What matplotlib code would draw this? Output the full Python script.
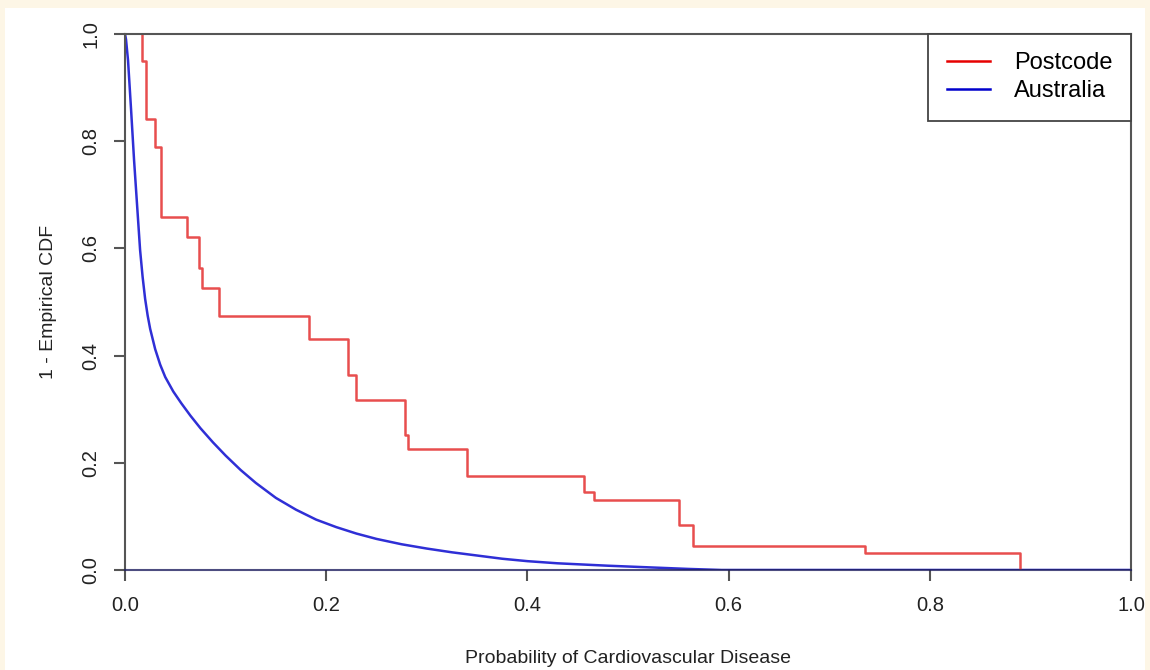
import matplotlib
matplotlib.use("Agg")
import matplotlib.pyplot as plt
from matplotlib.patches import Rectangle
import numpy as np

plt.rcParams['font.family'] = ['Liberation Sans', 'DejaVu Sans']

# Postcode: step positions and level after each step
red_x = [0.0166, 0.0205, 0.0295, 0.0358, 0.062, 0.0739, 0.0762, 0.0930, 0.183,
         0.222, 0.230, 0.278, 0.281, 0.340, 0.456, 0.466, 0.551, 0.565, 0.736, 0.890]
red_y = [0.950, 0.841, 0.790, 0.659, 0.622, 0.563, 0.527, 0.474, 0.431,
         0.364, 0.317, 0.252, 0.226, 0.175, 0.145, 0.131, 0.084, 0.044, 0.031, 0.0]

# Australia: 1 - ECDF
blue_x = [0.0, 0.001, 0.003, 0.006, 0.009, 0.012, 0.015, 0.0175, 0.020, 0.0225,
          0.025, 0.030, 0.035, 0.040, 0.048, 0.056, 0.065, 0.075, 0.0875, 0.100,
          0.115, 0.130, 0.150, 0.170, 0.190, 0.210, 0.230, 0.250, 0.275, 0.300,
          0.325, 0.350, 0.375, 0.400, 0.430, 0.480, 0.520, 0.560, 0.593, 1.0]
blue_y = [1.0, 0.990, 0.951, 0.860, 0.765, 0.681, 0.597, 0.547, 0.506, 0.475,
          0.450, 0.412, 0.383, 0.360, 0.333, 0.311, 0.288, 0.2645, 0.238, 0.2135,
          0.1865, 0.1625, 0.1345, 0.1125, 0.094, 0.080, 0.068, 0.058, 0.048, 0.040,
          0.033, 0.027, 0.021, 0.0165, 0.0125, 0.008, 0.005, 0.002, 0.0, 0.0]

ticks = [0.0, 0.2, 0.4, 0.6, 0.8, 1.0]
tick_labels = ["0.0", "0.2", "0.4", "0.6", "0.8", "1.0"]

W, H = 1150, 670
fig = plt.figure(figsize=(W / 100, H / 100), dpi=100)
fig.patch.set_facecolor('#fdf6e6')
bg = Rectangle((5 / W, 0), (1145 - 5) / W, (H - 8) / H,
               transform=fig.transFigure, facecolor='white',
               edgecolor='none', zorder=-10)
fig.add_artist(bg)

ax = fig.add_axes([125 / W, 100 / H, 1006 / W, 536 / H])
ax.set_zorder(1)
ax.set_facecolor('white')

ax.plot(blue_x, blue_y, color='#2f2fd6', lw=1.8, zorder=2)
ax.step([red_x[0]] + red_x[:-1] + [red_x[-1]], [1.0] + red_y, where='post',
        color='#e84e4e', lw=1.8, zorder=3)
# legend proxies
l1, = ax.plot([], [], color='#e60000', lw=1.8, label='Postcode')
l2, = ax.plot([], [], color='#0000cc', lw=1.8, label='Australia')

ax.set_xlim(0, 1)
ax.set_ylim(0, 1)
for s in ax.spines.values():
    s.set_color('#555555')
    s.set_linewidth(1.5)
    s.set_zorder(4)
ax.spines['bottom'].set_color('#202060')
ax.spines['bottom'].set_alpha(0.8)

ax.set_xticks(ticks)
ax.set_xticklabels(tick_labels)
ax.set_yticks(ticks)
ax.set_yticklabels(tick_labels, rotation=90, va='center')
ax.tick_params(axis='both', direction='out', length=8, width=1.5, color='#555555',
               labelsize=14.5, labelcolor='#222222')
ax.tick_params(axis='x', pad=11)
ax.tick_params(axis='y', pad=10)

ax.set_xlabel('Probability of Cardiovascular Disease', fontsize=14, color='#222222', labelpad=25)
ax.set_ylabel('1 - Empirical CDF', fontsize=14, color='#222222', labelpad=17)

leg = ax.legend(handles=[l1, l2], loc='upper right', bbox_to_anchor=(1, 1),
                borderaxespad=0, fancybox=False, framealpha=1, edgecolor='#444444',
                fontsize=17, handlelength=1.85, handletextpad=1.0, labelspacing=0.25,
                borderpad=0.78)
leg.get_frame().set_linewidth(1.3)
leg.set_zorder(5)

fig.savefig('out.png', dpi=100, facecolor=fig.get_facecolor())
